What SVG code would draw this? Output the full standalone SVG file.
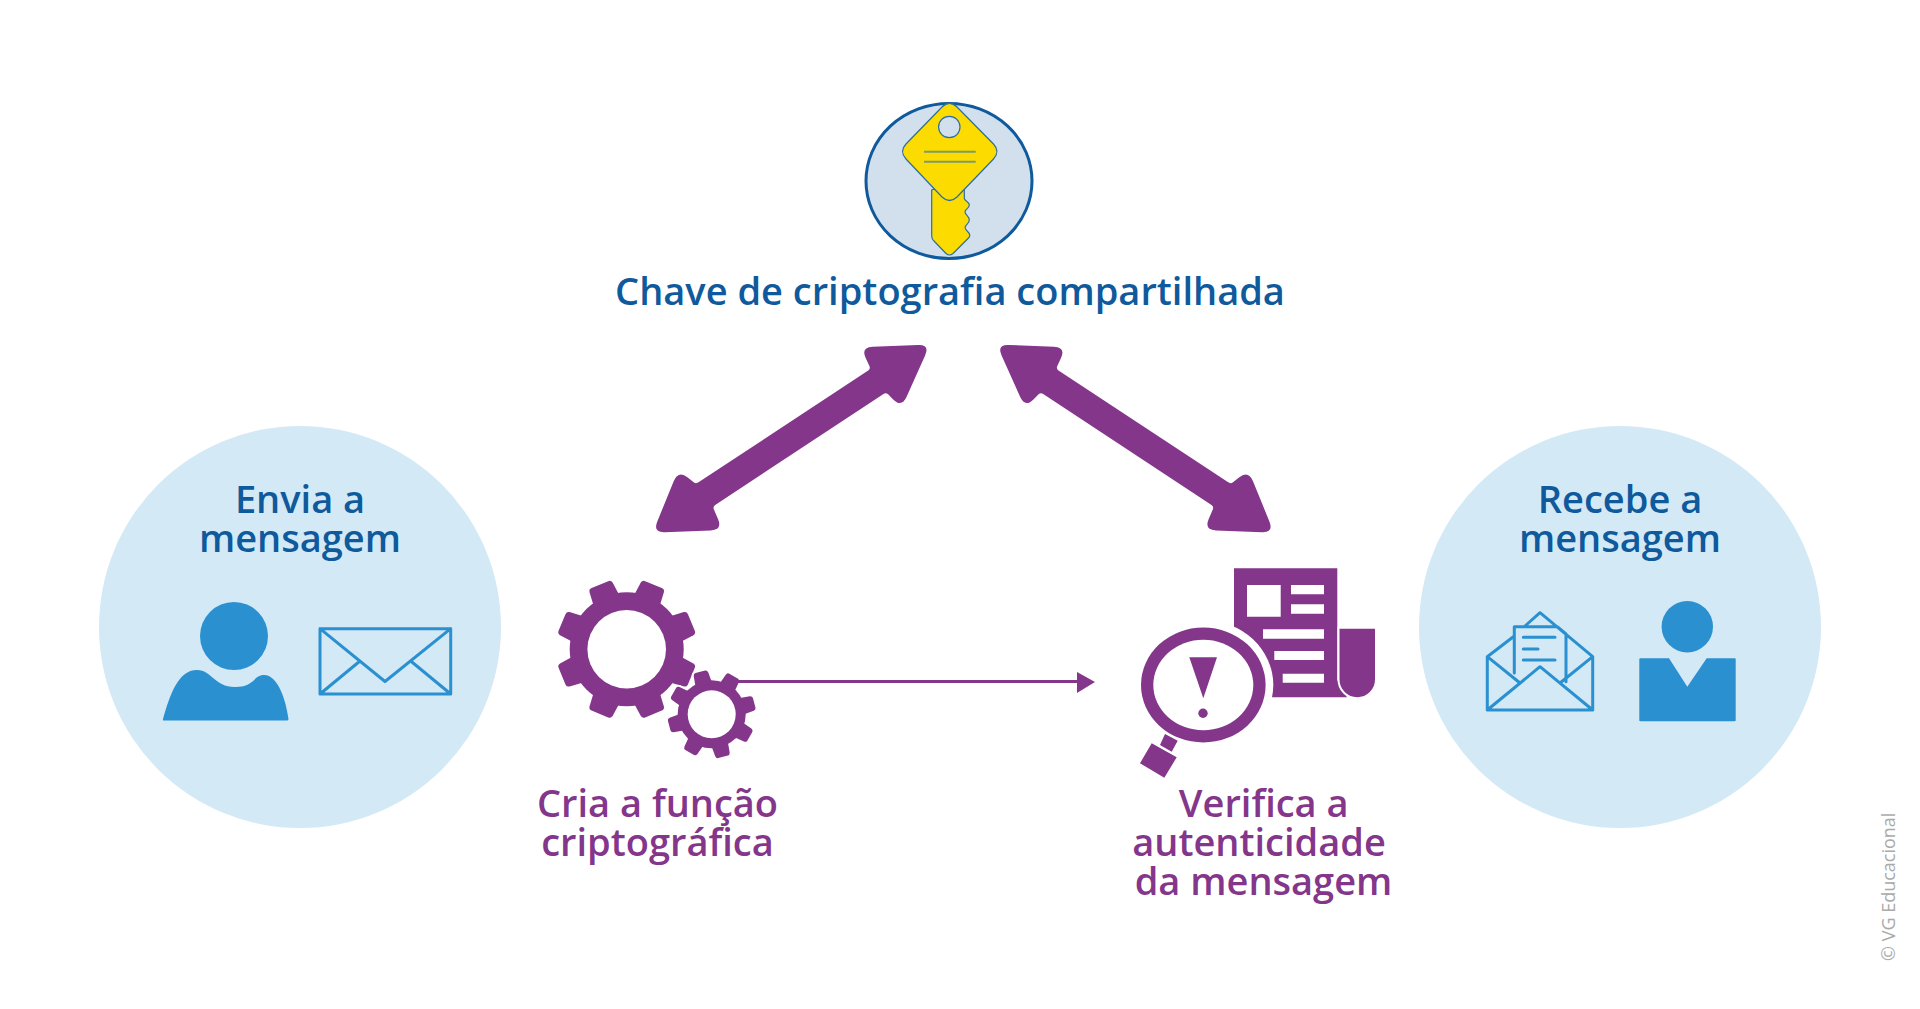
<svg xmlns="http://www.w3.org/2000/svg" xmlns:xlink="http://www.w3.org/1999/xlink" width="1920" height="1009" viewBox="0 0 1920 1009">
<style>
text{font-family:"Open Sans","Noto Sans","Liberation Sans",sans-serif;font-weight:600;font-size:38px;text-anchor:middle}
.b{fill:#0e5a9c}
.p{fill:#84368b}
.lt{fill:#2a90d0}
.o{fill:none;stroke:#2a90d0;stroke-width:3;stroke-linejoin:round;stroke-linecap:round}
.bub{fill:#d3e9f6}
.w{fill:#fff}
.key{fill:#fbdb00;stroke:#2a6f9f;stroke-width:1.2}
</style>
<defs>
<path id="t1" d="M-14,-52L-12.5,-67Q-12,-70-9,-70L9,-70Q12,-70 12.5,-67L14,-52Z"/>
<path id="t2" d="M-8.5,-30L-7.5,-41.5Q-7,-44-5,-44L5,-44Q7,-44 7.5,-41.5L8.5,-30Z"/>
<g id="gear1"><circle r="57"/><use xlink:href="#t1" transform="rotate(22.5)"/><use xlink:href="#t1" transform="rotate(67.5)"/><use xlink:href="#t1" transform="rotate(112.5)"/><use xlink:href="#t1" transform="rotate(157.5)"/><use xlink:href="#t1" transform="rotate(202.5)"/><use xlink:href="#t1" transform="rotate(247.5)"/><use xlink:href="#t1" transform="rotate(292.5)"/><use xlink:href="#t1" transform="rotate(337.5)"/></g>
<g id="gear2"><circle r="34"/><use xlink:href="#t2" transform="rotate(30)"/><use xlink:href="#t2" transform="rotate(75)"/><use xlink:href="#t2" transform="rotate(120)"/><use xlink:href="#t2" transform="rotate(165)"/><use xlink:href="#t2" transform="rotate(210)"/><use xlink:href="#t2" transform="rotate(255)"/><use xlink:href="#t2" transform="rotate(300)"/><use xlink:href="#t2" transform="rotate(345)"/></g>
<path id="dbl" d="M925.1,355.5Q930,344.5 918,345L872.7,346.7Q860.7,347.2 865.7,358.1L869.4,366.1Q870.7,368.8 868.2,370.5L698.5,482.3Q696,484 693.7,482.2L687.7,477.4Q678.3,470 673.7,481.2L657.3,521.5Q652.7,532.7 664.7,532.2L710.7,530.5Q722.7,530 718,519L713.9,509.5Q712.7,506.7 715.2,505L883.5,393.9Q886,392.2 888.1,394.3L893.2,399.4Q901.7,407.8 906.6,396.8Z"/>
</defs>
<rect width="1920" height="1009" fill="#fff"/>
<g id="node-key">
<ellipse cx="949" cy="181" rx="83" ry="77.500" fill="#d2dfec" stroke="#0e5a9c" stroke-width="3"/>
<path class="key" d="M931.7,190V236Q931.7,239 934,241L946,253.5Q949.5,256.5 953,253.5L968.5,238Q971,235.5 968.5,232.5C966,230 964.5,228 965.3,226.7C966,224.5 969.3,223.5 969.3,220C969.3,216 965,215 965,211.7C965,209.5 969.3,208.5 969.3,205C969.3,201.5 964.3,201 964.3,198.3V180Z"/>
<path class="key" d="M942,107Q949.5,99.5 957,107L993.500,144Q1000.500,151.5 993.500,159L957,197Q949.5,204 942,197L906,159Q899,151.5 906,144Z"/>
<circle cx="949.3" cy="127" r="10.7" fill="#d2dfec" stroke="#2a6f9f" stroke-width="1.2"/>
<path d="M924,151.7H975.7M924,161.7H975.7" stroke="#7d9c6e" stroke-width="2" fill="none"/>
<text class="b" x="950" y="305">Chave de criptografia compartilhada</text>
</g>
<g id="node-sender">
<circle class="bub" cx="300" cy="627" r="201"/>
<text class="b"><tspan x="300" y="513">Envia a</tspan><tspan x="300" y="552">mensagem</tspan></text>
<circle class="lt" cx="234" cy="636" r="34"/>
<path class="lt" d="M163,719C170,695 178,670 197,670C212,670 214,687 235,687C255,687 253,675 264,675C278,675 286,700 288.5,719Q288.5,720.5 287,720.5H164Q162.500,720.500 163,719Z"/>
<path class="o" d="M320,628.7H450.7V694H320ZM320,628.7L385,681.5L450.7,628.7M320,694L360,661M450.7,694L410.7,661"/>
</g>
<g id="node-hash" class="p">
<use xlink:href="#gear1" x="626.7" y="649.3"/>
<circle class="w" cx="626.7" cy="649.3" r="39.3"/>
<use xlink:href="#gear2" x="711.7" y="714.3" stroke="#fff" stroke-width="4"/>
<use xlink:href="#gear2" x="711.7" y="714.3"/>
<circle class="w" cx="711.7" cy="714.3" r="24"/>
<text><tspan x="657.5" y="817">Cria a função</tspan><tspan x="657.500" y="856">criptográfica</tspan></text>
</g>
<g id="node-verify" class="p">
<path d="M1234,568.3H1337.3V680L1347,697.3H1234Z"/>
<path class="w" d="M1247,585H1280.7V616.7H1247ZM1291,585H1324V594.3H1291ZM1291,604.3H1324V613.7H1291ZM1263,629.3H1324V638.7H1263ZM1274.3,651H1324V660H1274.3ZM1282.7,673.7H1324V682.7H1282.7Z"/>
<path d="M1338.5,627.7H1376V679.5A18.750,18.750 0 0 1 1338.5,679.5Z" stroke="#fff" stroke-width="2"/>
<ellipse class="w" cx="1203.3" cy="685" rx="70" ry="65"/>
<ellipse cx="1203.3" cy="685" rx="62.3" ry="57.5"/>
<ellipse class="w" cx="1203.3" cy="685" rx="50" ry="45.3"/>
<path d="M1189.3,657.3H1217L1203.3,698.3Z"/>
<circle cx="1203" cy="713.3" r="4.7"/>
<path d="M1165,734L1177.7,740.7L1171.7,751.7L1160,745ZM1151.7,743.3L1176.7,757.3L1164.3,777.7L1140,763.3Z"/>
<text><tspan x="1263.7" y="817">Verifica a</tspan><tspan x="1259" y="856">autenticidade</tspan><tspan x="1263.500" y="895">da mensagem</tspan></text>
</g>
<g id="node-receiver">
<circle class="bub" cx="1620" cy="627" r="201"/>
<text class="b"><tspan x="1620" y="513">Recebe a</tspan><tspan x="1620" y="552">mensagem</tspan></text>
<path class="o" d="M1487.3,656.7V710H1592.7V656.7L1540,612.7L1525,626M1487.3,656.7L1514.3,636M1487.3,656.7L1520,683M1592.7,656.7L1560,683M1487.3,710L1540,666.7L1592.7,710M1514.3,673V626.7H1557.3L1566,634V681.7"/>
<path d="M1523.3,637.3H1555M1523.3,649H1538M1523.3,660H1555" class="o"/>
<circle class="lt" cx="1687.3" cy="626.7" r="25.7"/>
<path class="lt" d="M1640.3,658.3H1669L1687.3,686.7L1706.7,658.3H1734.7Q1735.700,658.300 1735.700,659.300V720.300Q1735.700,721.300 1734.700,721.300H1640.300Q1639.300,721.300 1639.300,720.300V659.300Q1639.300,658.300 1640.300,658.300Z"/>
</g>
<g id="connectors" class="p">
<use xlink:href="#dbl"/>
<use xlink:href="#dbl" transform="translate(1926.7,0) scale(-1,1)"/>
<path d="M735,681.500H1078" fill="none" stroke="#84368b" stroke-width="3"/>
<path d="M1077,672L1095,682L1077,693Z"/>
</g>
<text id="credit" transform="translate(1895,961) rotate(-90)" style="font-size:18px;font-weight:400;text-anchor:start;fill:#aaa">© VG Educacional</text>
</svg>
